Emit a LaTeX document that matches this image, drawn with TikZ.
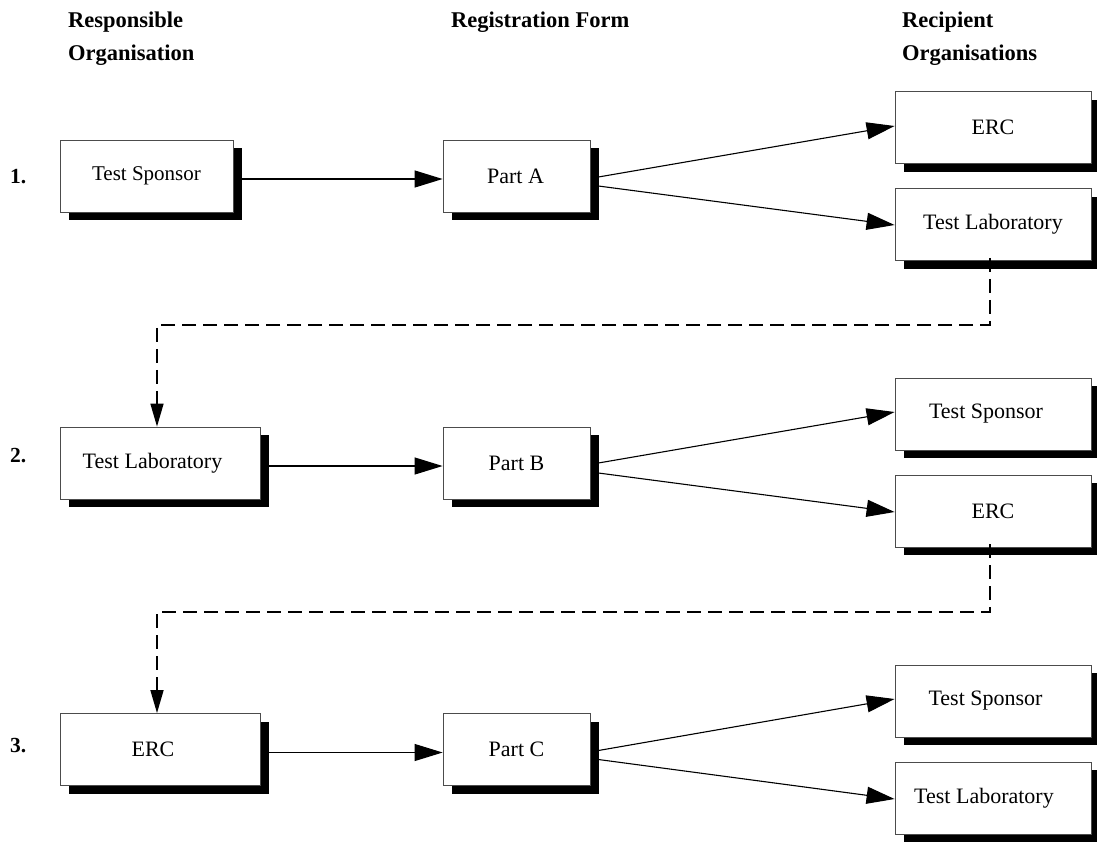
\documentclass[tikz,border=0pt]{standalone}
\usepackage{fontspec}
\setmainfont{Liberation Serif}
\usetikzlibrary{arrows.meta,shadows}
\newcommand{\lft}[1]{\hspace*{-#1pt}}
\begin{document}
\begin{tikzpicture}[x=1pt,y=-1pt,
  box/.style={draw=black!70, line width=0.8pt, fill=white, inner sep=0pt,
    minimum height=72pt, font=\fontsize{22}{26}\selectfont,
    drop shadow={shadow xshift=9pt,shadow yshift=-8pt,fill=black,opacity=1}},
  hdr/.style={inner sep=0pt, anchor=base west, font=\fontsize{22.5}{26}\selectfont\bfseries},
  num/.style={inner sep=0pt, anchor=base west, font=\fontsize{21.5}{24}\selectfont\bfseries},
  arr/.style={line width=1.1pt, -{Triangle[length=28pt,width=17pt]}},
  dsh/.style={line width=1.5pt, dash pattern=on 14pt off 7pt, -{Triangle[length=23pt,width=13pt]}}
]
\useasboundingbox (0,0) rectangle (1097,841);

% headers
\node[hdr] (h1a) at (68,27) {Responsible};
\node[hdr] (h1b) at (68,60) {Organisation};
\node[hdr] (h2) at (451,27) {Registration Form};
\node[hdr] (h3a) at (902,27) {Recipient};
\node[hdr] (h3b) at (902,60) {Organisations};

% row numbers
\node[num] (n1) at (10,183) {1.};
\node[num] (n2) at (10,462) {2.};
\node[num] (n3) at (10,752) {3.};

% row 1
\node[box, minimum width=173pt, font=\fontsize{21}{24}\selectfont] (ts1) at (146.5,176) {Test Sponsor};
\node[box, minimum width=147pt] (pa) at (516.5,176) {\lft{2}Part A};
\node[box, minimum width=196pt] (erc1) at (993,127.5) {ERC};
\node[box, minimum width=196pt] (tl1) at (993,224.5) {Test Laboratory};

% row 2
\node[box, minimum width=200pt] (tl2) at (160,463) {\lft{15}Test Laboratory};
\node[box, minimum width=147pt] (pb) at (516.5,463) {Part B};
\node[box, minimum width=196pt] (ts2) at (993,414) {\lft{14}Test Sponsor};
\node[box, minimum width=196pt] (erc2) at (993,511) {ERC};

% row 3
\node[box, minimum width=200pt] (erc3) at (160,749.5) {\lft{14}ERC};
\node[box, minimum width=147pt] (pc) at (516.5,749.5) {Part C};
\node[box, minimum width=196pt] (ts3) at (993,701) {\lft{15}Test Sponsor};
\node[box, minimum width=196pt] (tl3) at (993,798) {\lft{18}Test Laboratory};

% connectors row 1
\draw[arr] ([xshift=9pt,yshift=-3pt]ts1.east) -- ([yshift=-3pt]pa.west);
\draw[arr] ([xshift=8pt,yshift=-1pt]pa.east) -- ([yshift=1.5pt]erc1.west);
\draw[arr] ([xshift=8pt,yshift=-10pt]pa.east) -- ([yshift=-0.5pt]tl1.west);

% connectors row 2
\draw[arr] ([xshift=9pt,yshift=-3pt]tl2.east) -- ([yshift=-3pt]pb.west);
\draw[arr] ([xshift=8pt,yshift=0pt]pb.east) -- ([yshift=2pt]ts2.west);
\draw[arr] ([xshift=8pt,yshift=-10pt]pb.east) -- ([yshift=-1pt]erc2.west);

% connectors row 3
\draw[arr] ([xshift=9pt,yshift=-3pt]erc3.east) -- ([yshift=-3pt]pc.west);
\draw[arr] ([xshift=8pt,yshift=-1pt]pc.east) -- ([yshift=2pt]ts3.west);
\draw[arr] ([xshift=8pt,yshift=-10pt]pc.east) -- ([yshift=-1pt]tl3.west);

% dashed hand-overs
\coordinate (c1) at (157,325);
\coordinate (c2) at (157,612);
\draw[dsh] ([xshift=-3pt,yshift=3pt]tl1.south) |- (c1) -- (tl2.north -| c1);
\draw[dsh] ([xshift=-3pt,yshift=3pt]erc2.south) |- (c2) -- (erc3.north -| c2);
\end{tikzpicture}
\end{document}
